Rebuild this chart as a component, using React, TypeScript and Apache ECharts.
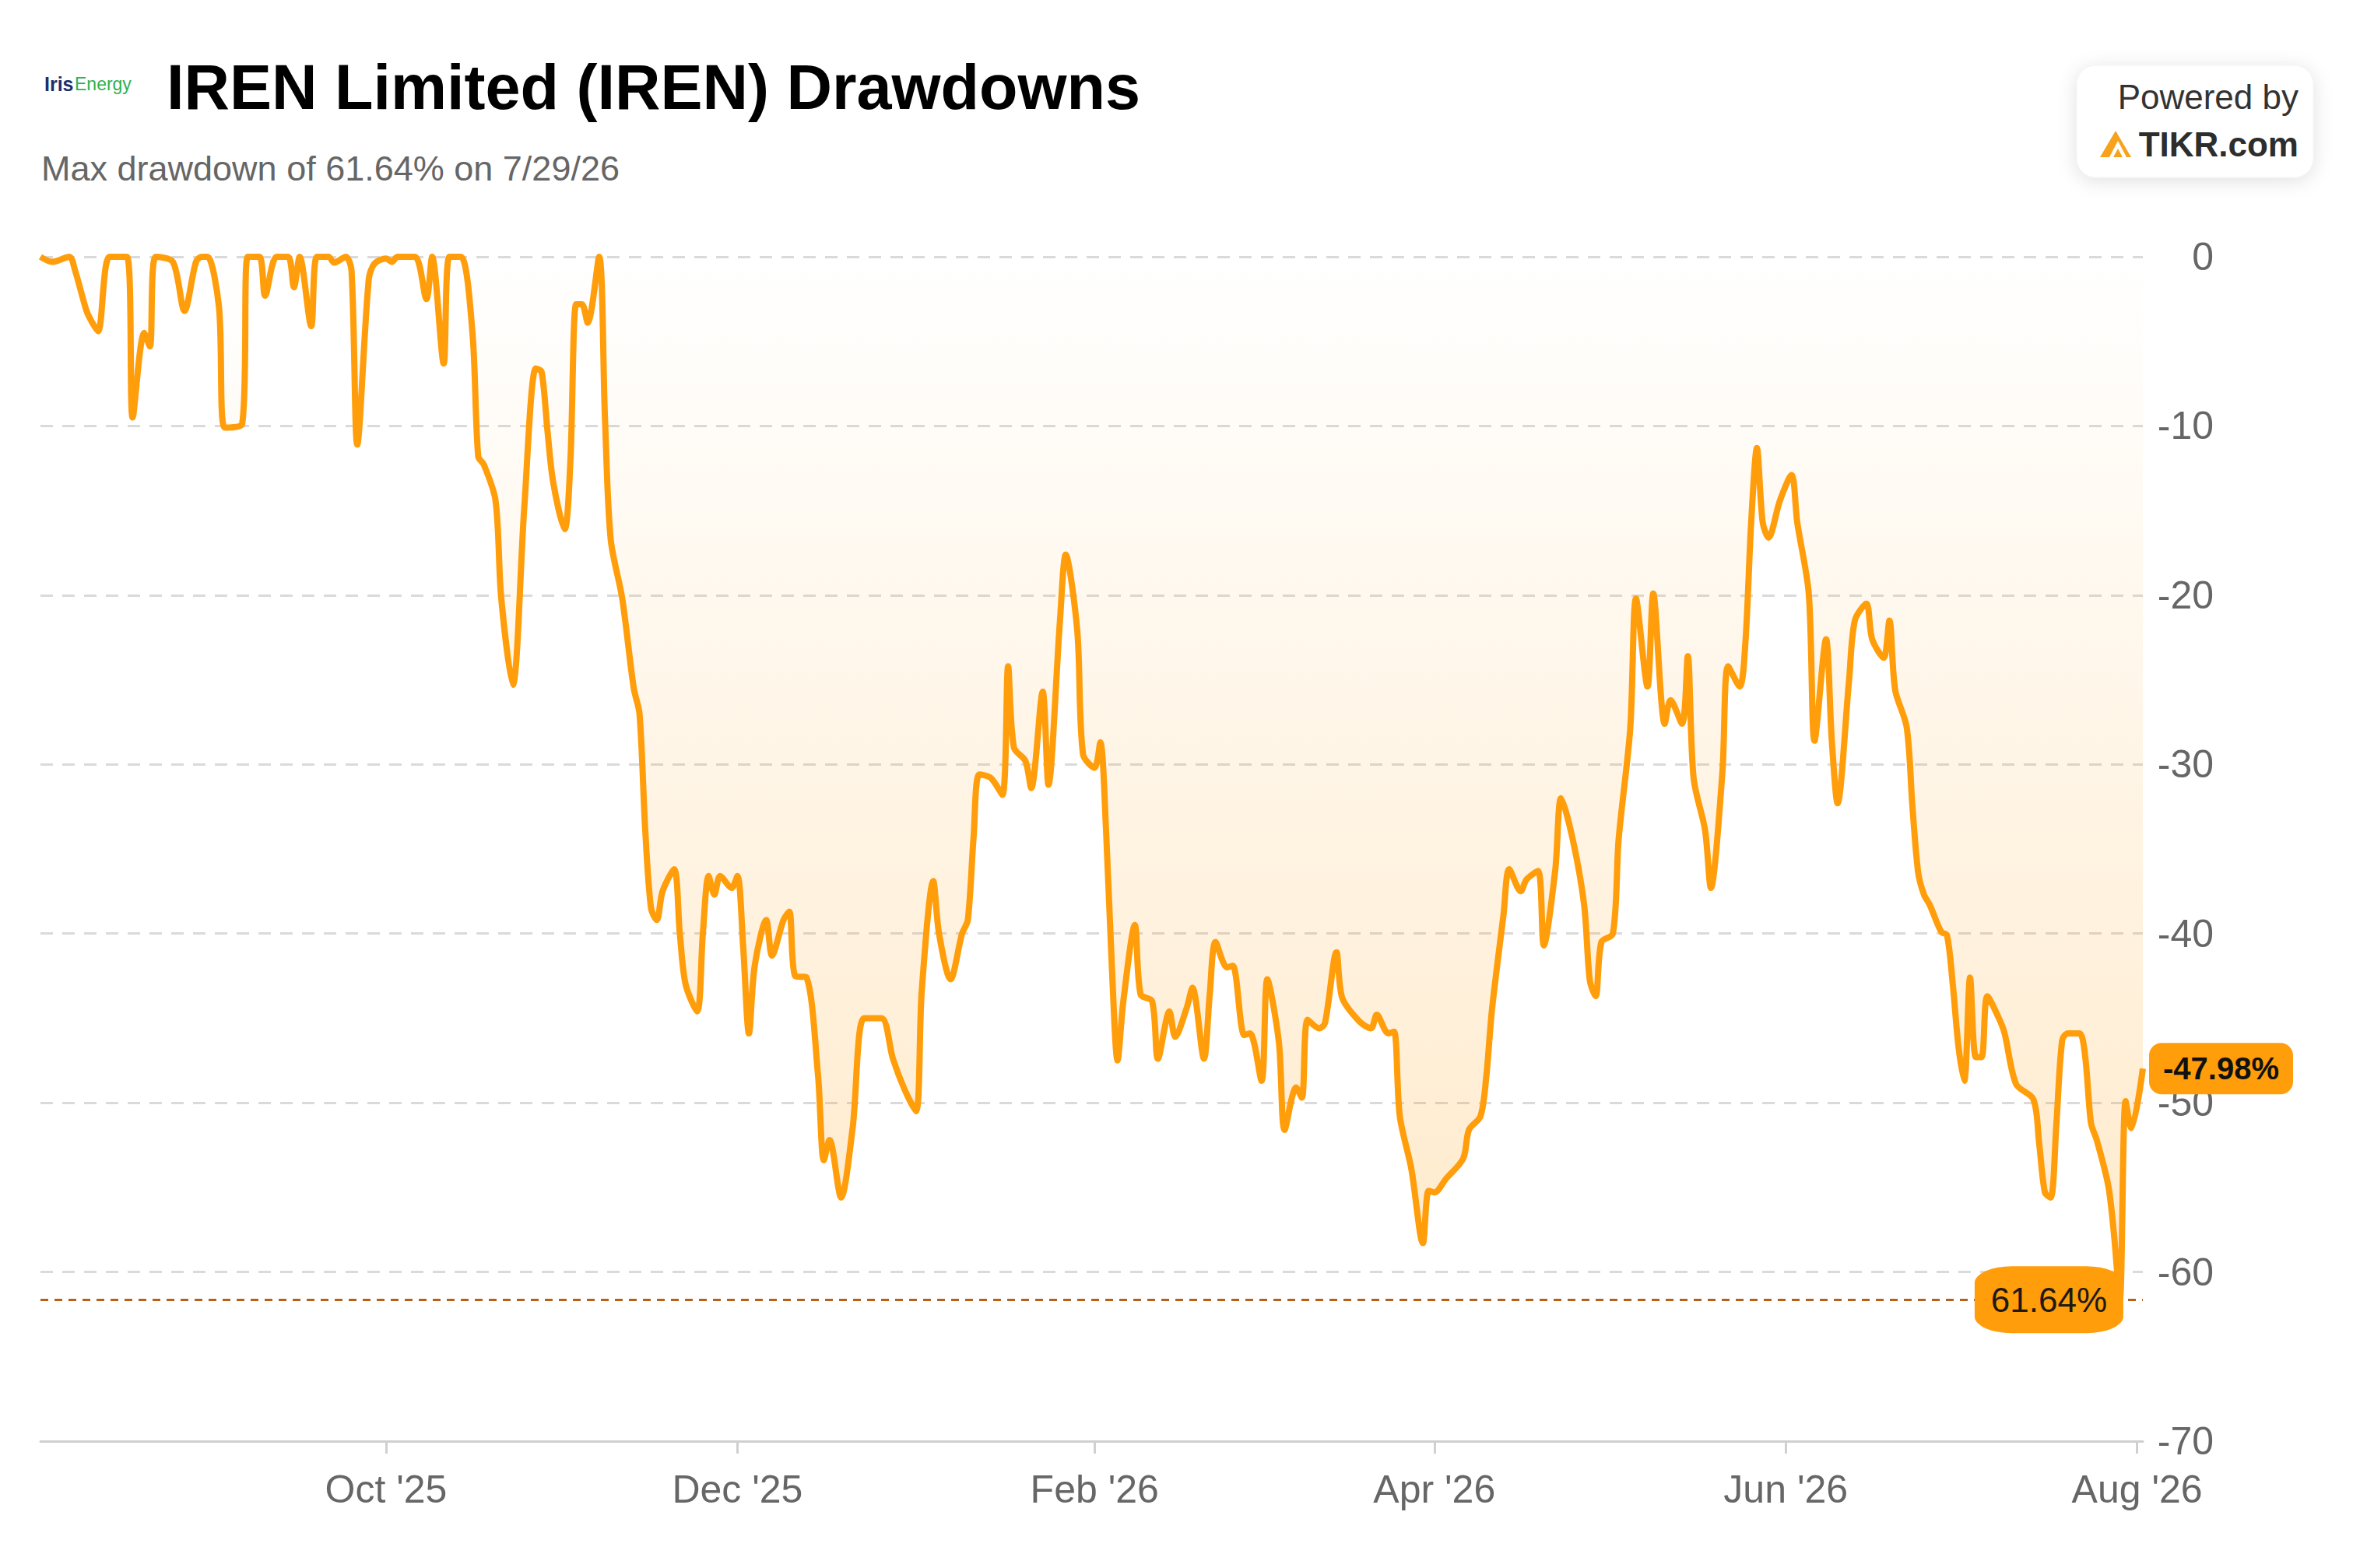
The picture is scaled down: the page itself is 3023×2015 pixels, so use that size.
import React, { useEffect, useRef } from "react";
import * as echarts from "echarts";

const dates: string[] = [
  "2025-08-02","2025-08-04","2025-08-07","2025-08-08","2025-08-10","2025-08-11","2025-08-12","2025-08-14","2025-08-17","2025-08-18",
  "2025-08-20","2025-08-21","2025-08-22","2025-08-25","2025-08-27","2025-08-29","2025-08-30","2025-08-31","2025-09-02","2025-09-03",
  "2025-09-06","2025-09-07","2025-09-09","2025-09-10","2025-09-12","2025-09-14","2025-09-15","2025-09-16","2025-09-18","2025-09-19",
  "2025-09-21","2025-09-22","2025-09-24","2025-09-25","2025-09-26","2025-09-28","2025-09-29","2025-10-01","2025-10-02","2025-10-03",
  "2025-10-06","2025-10-08","2025-10-09","2025-10-11","2025-10-12","2025-10-14","2025-10-16","2025-10-17","2025-10-18","2025-10-20",
  "2025-10-21","2025-10-23","2025-10-25","2025-10-27","2025-10-28","2025-10-29","2025-10-30","2025-11-01","2025-11-02","2025-11-03",
  "2025-11-04","2025-11-05","2025-11-07","2025-11-08","2025-11-09","2025-11-11","2025-11-13","2025-11-14","2025-11-15","2025-11-16",
  "2025-11-17","2025-11-18","2025-11-20","2025-11-21","2025-11-22","2025-11-24","2025-11-25","2025-11-26","2025-11-27","2025-11-28",
  "2025-11-30","2025-12-01","2025-12-02","2025-12-03","2025-12-04","2025-12-06","2025-12-07","2025-12-09","2025-12-10","2025-12-11",
  "2025-12-13","2025-12-15","2025-12-16","2025-12-17","2025-12-19","2025-12-21","2025-12-23","2025-12-26","2025-12-28","2025-12-30",
  "2026-01-01","2026-01-02","2026-01-04","2026-01-05","2026-01-07","2026-01-09","2026-01-10","2026-01-11","2026-01-12","2026-01-14",
  "2026-01-16","2026-01-17","2026-01-18","2026-01-20","2026-01-21","2026-01-23","2026-01-24","2026-01-26","2026-01-27","2026-01-29",
  "2026-01-30","2026-02-01","2026-02-02","2026-02-03","2026-02-04","2026-02-05","2026-02-06","2026-02-08","2026-02-09","2026-02-11",
  "2026-02-12","2026-02-14","2026-02-15","2026-02-17","2026-02-18","2026-02-20","2026-02-21","2026-02-22","2026-02-24","2026-02-25",
  "2026-02-27","2026-02-28","2026-03-02","2026-03-03","2026-03-05","2026-03-06","2026-03-08","2026-03-09","2026-03-10","2026-03-12",
  "2026-03-13","2026-03-15","2026-03-16","2026-03-19","2026-03-21","2026-03-22","2026-03-24","2026-03-25","2026-03-26","2026-03-28",
  "2026-03-30","2026-03-31","2026-04-01","2026-04-03","2026-04-06","2026-04-07","2026-04-09","2026-04-10","2026-04-11","2026-04-13",
  "2026-04-14","2026-04-16","2026-04-17","2026-04-19","2026-04-20","2026-04-22","2026-04-23","2026-04-25","2026-04-27","2026-04-28",
  "2026-04-29","2026-04-30","2026-05-02","2026-05-03","2026-05-05","2026-05-06","2026-05-08","2026-05-09","2026-05-11","2026-05-12",
  "2026-05-14","2026-05-15","2026-05-16","2026-05-18","2026-05-19","2026-05-21","2026-05-22","2026-05-24","2026-05-25","2026-05-26",
  "2026-05-27","2026-05-28","2026-05-29","2026-05-31","2026-06-02","2026-06-03","2026-06-05","2026-06-06","2026-06-08","2026-06-09",
  "2026-06-10","2026-06-12","2026-06-13","2026-06-15","2026-06-16","2026-06-18","2026-06-19","2026-06-20","2026-06-22","2026-06-23",
  "2026-06-24","2026-06-25","2026-06-26","2026-06-28","2026-06-29","2026-06-30","2026-07-01","2026-07-02","2026-07-03","2026-07-04",
  "2026-07-05","2026-07-06","2026-07-08","2026-07-09","2026-07-11","2026-07-14","2026-07-15","2026-07-16","2026-07-17","2026-07-18",
  "2026-07-19","2026-07-20","2026-07-22","2026-07-23","2026-07-24","2026-07-25","2026-07-27","2026-07-28","2026-07-29","2026-07-30",
  "2026-07-31","2026-08-02"
];

const drawdowns: number[] = [
  0,-0.3,0,-0.8,-3.2,-3.9,-4.4,0,0,-9.5,
  -4.5,-5.3,0,-0.3,-3.2,-0.3,0,0,-3,-10.1,
  -9.9,0,0,-2.3,0,0,-1.8,0,-4.1,0,
  0,-0.35,0,-0.8,-11.1,-1.3,-0.4,-0.1,-0.3,0,
  0,-2.5,0,-6.3,0,0,-4.5,-11.8,-12.3,-14.4,
  -20.2,-25.3,-14.8,-6.6,-6.8,-10.2,-13.3,-16.1,-12.1,-2.8,
  -2.8,-3.9,0,-9.5,-16.7,-20.2,-25.5,-27,-33.9,-38.5,
  -39.2,-37.5,-36.2,-40,-43,-44.6,-40,-36.6,-37.7,-36.6,
  -37.3,-36.6,-40.8,-45.9,-41.9,-39.2,-41.3,-39.2,-38.7,-42.5,
  -42.6,-48.4,-53.4,-52.2,-55.6,-51.5,-45,-45,-47.4,-49.2,
  -50.5,-43.4,-36.9,-40,-42.7,-40,-39.2,-34.3,-30.6,-30.8,
  -31.8,-24.2,-29,-29.8,-31.4,-25.7,-31.2,-21.5,-17.6,-22.1,
  -29.4,-30.2,-28.7,-33.9,-41.9,-47.5,-44,-39.5,-43.6,-44,
  -47.4,-44.6,-46.1,-44.4,-43.2,-47.4,-43.6,-40.5,-42,-41.9,
  -46,-45.9,-48.7,-42.7,-46.4,-51.6,-49.1,-49.7,-45.1,-45.6,
  -45.3,-41.1,-43.8,-45.2,-45.6,-44.8,-45.9,-45.8,-50.8,-53.9,
  -58.3,-55.2,-55.3,-54.5,-53.3,-51.6,-50.8,-48.5,-44.5,-38.9,
  -36.2,-37.5,-36.8,-36.3,-40.7,-36.2,-32,-34.4,-38.3,-42.8,
  -43.7,-40.5,-40,-34.4,-27.9,-20.2,-25.4,-19.9,-27.6,-26.2,
  -27.6,-23.6,-30.8,-33.9,-37.3,-30.5,-24.2,-25.4,-22.8,-15.7,
  -11.3,-15.7,-16.6,-14.4,-12.9,-15.7,-19.9,-28.6,-22.6,-28.6,
  -32.3,-25,-21.5,-20.5,-22.6,-23.7,-21.5,-25.6,-27.8,-32.5,
  -36.4,-37.7,-38.3,-39.9,-40.1,-43,-46.7,-48.7,-42.6,-47.3,
  -47.3,-43.7,-45,-45.9,-48.9,-49.8,-52.4,-55.3,-55.6,-51.2,
  -46.3,-45.9,-45.9,-47.3,-51.2,-52.2,-54.9,-57.8,-61.64,-49.9,
  -51.5,-47.98
];

const xTickDates: string[] = ["2025-10-01", "2025-12-01", "2026-02-01", "2026-04-01", "2026-06-01", "2026-08-01"];
const xTickLabels: string[] = ["Oct '25", "Dec '25", "Feb '26", "Apr '26", "Jun '26", "Aug '26"];
const yTicks: number[] = [0, -10, -20, -30, -40, -50, -60, -70];

const axisStart = "2025-08-02";
const axisEnd = "2026-08-02";

const ORANGE = "#FF9D0A";
const FONT = "'Liberation Sans', Arial, Helvetica, sans-serif";

function toTs(s: string): number {
  const [y, m, d] = s.split("-").map(Number);
  return new Date(y, m - 1, d).getTime();
}

export default function App() {
  const ref = useRef<HTMLDivElement>(null);

  useEffect(() => {
    document.body.style.margin = "0";
    if (!ref.current) return;
    const chart = echarts.init(ref.current, undefined, { renderer: "svg" });

    const data = dates.map((d, i) => [toTs(d), drawdowns[i]]);
    let minIdx = 0;
    drawdowns.forEach((v, i) => {
      if (v < drawdowns[minIdx]) minIdx = i;
    });
    const minVal = drawdowns[minIdx];
    const minDate = dates[minIdx];
    const [my, mm, md] = minDate.split("-").map(Number);
    const subtitle = `Max drawdown of ${Math.abs(minVal).toFixed(2)}% on ${mm}/${md}/${String(my).slice(2)}`;
    const tickTs = xTickDates.map(toTs);

    const option: any = {
      animation: false,
      backgroundColor: "#ffffff",
      grid: { left: 52, right: 270, top: 330, bottom: 163, containLabel: false },
      xAxis: {
        type: "value",
        min: toTs(axisStart),
        max: toTs(axisEnd),
        axisLine: { show: true, onZero: false, lineStyle: { color: "#d0d0d0", width: 3 } },
        axisTick: {
          show: true,
          customValues: tickTs,
          length: 16,
          lineStyle: { color: "#d0d0d0", width: 3 },
        },
        axisLabel: {
          show: true,
          customValues: tickTs,
          margin: 37,
          fontSize: 50,
          color: "#666666",
          fontFamily: FONT,
          formatter: (val: number) => {
            const i = tickTs.findIndex((t) => Math.abs(t - val) < 43200000);
            return i >= 0 ? xTickLabels[i] : "";
          },
        },
        splitLine: { show: false },
      },
      yAxis: {
        type: "value",
        position: "right",
        min: yTicks[yTicks.length - 1],
        max: yTicks[0],
        interval: 10,
        axisLine: { show: false },
        axisTick: { show: false },
        axisLabel: {
          show: true,
          align: "right",
          margin: 91,
          fontSize: 50,
          color: "#666666",
          fontFamily: FONT,
        },
        splitLine: {
          show: true,
          lineStyle: { color: "#dadada", width: 3, type: [16, 12] },
        },
      },
      series: [
        {
          type: "line",
          data,
          showSymbol: false,
          smooth: 0.3,
          z: 3,
          lineStyle: { color: ORANGE, width: 8 },
          itemStyle: { color: ORANGE },
          areaStyle: {
            color: new echarts.graphic.LinearGradient(0, 0, 0, 1, [
              { offset: 0, color: "rgba(255,157,10,0.0)" },
              { offset: 1, color: "rgba(255,157,10,0.30)" },
            ]),
          },
          endLabel: {
            show: true,
            formatter: (p: any) => `${Number(p.value[1]).toFixed(2)}%`,
            distance: 8,
            backgroundColor: ORANGE,
            borderRadius: 16,
            padding: [13, 18, 13, 18],
            fontSize: 40,
            lineHeight: 40,
            fontWeight: "bold",
            color: "#111111",
            fontFamily: FONT,
          },
          markLine: {
            silent: true,
            symbol: "none",
            z: 4,
            data: [{ yAxis: minVal }],
            lineStyle: { color: "#b8601a", width: 3, type: [10, 8] },
            label: { show: false },
          },
          markPoint: {
            silent: true,
            z: 5,
            data: [{ coord: [toTs(minDate), minVal], value: minVal }],
            symbol: "roundRect",
            symbolSize: [191, 86],
            symbolOffset: [-91, 0],
            itemStyle: { color: ORANGE },
            label: {
              show: true,
              position: "inside",
              formatter: () => `${Math.abs(minVal).toFixed(2)}%`,
              fontSize: 44,
              color: "#1e1a14",
              fontFamily: FONT,
            },
          },
        },
      ],
      graphic: [
        {
          type: "text",
          x: 57,
          y: 108,
          style: {
            text: "Iris",
            fill: "#1b2f6b",
            fontSize: 25,
            fontWeight: "bold",
            fontFamily: FONT,
            textAlign: "left",
            textVerticalAlign: "middle",
          },
        },
        {
          type: "text",
          x: 96,
          y: 108,
          style: {
            text: "Energy",
            fill: "#2fb14b",
            fontSize: 23,
            fontWeight: 500,
            fontFamily: FONT,
            textAlign: "left",
            textVerticalAlign: "middle",
          },
        },
        {
          type: "text",
          x: 214,
          y: 112,
          style: {
            text: "IREN Limited (IREN) Drawdowns",
            fill: "#000000",
            fontSize: 81,
            fontWeight: "bold",
            fontFamily: FONT,
            textAlign: "left",
            textVerticalAlign: "middle",
          },
        },
        {
          type: "text",
          x: 53,
          y: 216,
          style: {
            text: subtitle,
            fill: "#666666",
            fontSize: 45,
            fontFamily: FONT,
            textAlign: "left",
            textVerticalAlign: "middle",
          },
        },
        {
          type: "rect",
          shape: { x: 2668, y: 84, width: 304, height: 144, r: 24 },
          style: {
            fill: "#ffffff",
            stroke: "#f2f2f2",
            lineWidth: 1,
            shadowBlur: 24,
            shadowColor: "rgba(0,0,0,0.12)",
            shadowOffsetY: 4,
          },
        },
        {
          type: "text",
          x: 2953,
          y: 124,
          style: {
            text: "Powered by",
            fill: "#333333",
            fontSize: 44,
            fontFamily: FONT,
            textAlign: "right",
            textVerticalAlign: "middle",
          },
        },
        {
          type: "text",
          x: 2953,
          y: 185,
          style: {
            text: "TIKR.com",
            fill: "#2d2d2d",
            fontSize: 44,
            fontWeight: "bold",
            fontFamily: FONT,
            textAlign: "right",
            textVerticalAlign: "middle",
          },
        },
        {
          type: "polygon",
          shape: { points: [[2698, 202], [2718, 168], [2738, 202]] },
          style: { fill: "#F7A21B" },
        },
        {
          type: "polygon",
          shape: { points: [[2710, 202], [2721, 181], [2732, 202]] },
          style: { fill: "#ffffff" },
        },
        {
          type: "polygon",
          shape: { points: [[2715, 202], [2721, 191], [2727, 202]] },
          style: { fill: "#F7A21B" },
        },
      ],
    };

    chart.setOption(option);
    return () => {
      chart.dispose();
    };
  }, []);

  return (
    <div
      ref={ref}
      style={{ position: "absolute", left: 0, top: 0, width: 3023, height: 2015, background: "#fff" }}
    />
  );
}
